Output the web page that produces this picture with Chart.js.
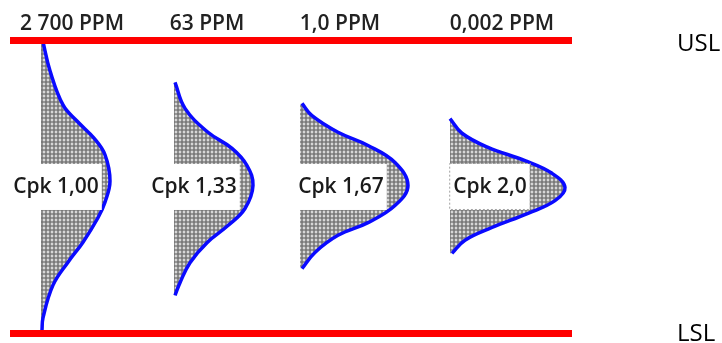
<!DOCTYPE html>
<html>
<head>
<meta charset="utf-8">
<script src="https://cdn.jsdelivr.net/npm/chart.js@4.4.1/dist/chart.umd.min.js"></script>
<style>
  html, body { margin: 0; padding: 0; background: #fff; }
  #wrap { width: 722px; height: 343px; }
</style>
</head>
<body>
<div id="wrap"><canvas id="myChart" width="722" height="343"></canvas></div>
<script>
// values in sigma of the Cpk 1,00 process, so LSL = -3 and USL = +3
var cpkLabels = ["Cpk 1,00", "Cpk 1,33", "Cpk 1,67", "Cpk 2,0"];
var ppmLabels = ["2 700 PPM", "63 PPM", "1,0 PPM", "0,002 PPM"];
var limitLabels = ["USL", "LSL"];
var specLimits = [3, -3];

// half bells: position + how far the curve bulges out
var curve1Pos = [2.97, 2.38, 1.68, 1.35, 1.00, 0.66, 0.12, -0.31, -0.63, -1.13, -1.54, -2.01, -2.68, -2.93];
var curve1Width = [2, 9, 22, 36, 53, 64, 69, 64, 57, 42, 27, 12, 2, 1];
var curve2Pos = [2.14, 1.61, 1.12, 0.79, 0.44, 0.03, -0.44, -0.79, -1.14, -1.55, -1.96, -2.22];
var curve2Width = [1, 11, 34, 58, 73, 79, 71, 54, 33, 16, 6, 1];
var curve3Pos = [1.71, 1.46, 1.12, 0.85, 0.50, 0.03, -0.38, -0.73, -0.99, -1.34, -1.67];
var curve3Width = [2, 12, 38, 68, 95, 108, 95, 68, 38, 15, 2];
var curve4Pos = [1.40, 1.10, 0.81, 0.54, 0.28, -0.01, -0.28, -0.54, -0.83, -1.09, -1.36];
var curve4Width = [0, 12, 38, 75, 102, 115, 105, 78, 42, 15, 2];

// layout (x scale runs 0..722)
var curveBase = [41, 174, 300, 450];
var cpkLabelX = [56, 194, 341, 490];
var ppmLabelX = [72, 207, 340, 502];
var specFrom = 10, specTo = 572;

var curvesPos = [curve1Pos, curve2Pos, curve3Pos, curve4Pos];
var curvesWidth = [curve1Width, curve2Width, curve3Width, curve4Width];

const ctx = document.getElementById('myChart').getContext('2d');

// grey dot screen like the print original
function dotPattern() {
  var c = document.createElement('canvas');
  c.width = 4; c.height = 4;
  var g = c.getContext('2d');
  g.fillStyle = '#ffffff';
  g.fillRect(0, 0, 4, 4);
  g.fillStyle = '#7a7a7a';
  g.beginPath();
  g.arc(2, 2, 1.95, 0, Math.PI * 2);
  g.fill();
  return ctx.createPattern(c, 'repeat');
}
var dots = dotPattern();

var datasets = [];
specLimits.forEach(function(lim) {
  datasets.push({
    data: [{x: specFrom, y: lim}, {x: specTo, y: lim}],
    borderColor: '#ff0000',
    borderWidth: 7,
    pointRadius: 0,
    fill: false,
    order: 0
  });
});
curvesPos.forEach(function(pos, i) {
  datasets.push({
    data: pos.map(function(v, j) { return {x: curveBase[i] + curvesWidth[i][j], y: v}; }),
    borderColor: '#0a0aff',
    borderWidth: 3.5,
    backgroundColor: dots,
    pointRadius: 0,
    tension: 0.4,
    fill: {value: curveBase[i]},
    order: 1
  });
});

// labels: white boxes with Cpk text, PPM on top, USL/LSL on the right
const textPlugin = {
  id: 'texts',
  afterDatasetsDraw(chart) {
    const c = chart.ctx;
    const xs = chart.scales.x, ys = chart.scales.y;
    c.save();
    const midY = ys.getPixelForValue(0);
    c.font = '600 21px "Open Sans"';
    c.textBaseline = 'alphabetic';
    cpkLabels.forEach(function(t, i) {
      const w = c.measureText(t).width;
      const cx = xs.getPixelForValue(cpkLabelX[i]);
      const left = cx - w / 2 - 4, right = cx + w / 2 + 3;
      c.fillStyle = '#ffffff';
      c.fillRect(left, midY - 23, right - left, 46);
      if (i === 3) {
        c.strokeStyle = '#a0a0a0';
        c.lineWidth = 1;
        c.setLineDash([2, 2]);
        c.strokeRect(left + 0.5, midY - 23.5, right - left, 46);
        c.setLineDash([]);
      }
      c.fillStyle = '#1a1a1a';
      c.textAlign = 'center';
      c.fillText(t, cx, midY + 6);
    });
    c.fillStyle = '#222222';
    ppmLabels.forEach(function(t, i) {
      c.textAlign = 'center';
      c.fillText(t, xs.getPixelForValue(ppmLabelX[i]), ys.getPixelForValue(specLimits[0]) - 10);
    });
    c.font = '400 24px "Open Sans"';
    c.fillStyle = '#000000';
    c.textAlign = 'left';
    c.fillText(limitLabels[0], 677, ys.getPixelForValue(specLimits[0]) + 11);
    c.fillText(limitLabels[1], 677, ys.getPixelForValue(specLimits[1]) + 8);
    c.restore();
  }
};

const myChart = new Chart(ctx, {
  type: 'line',
  data: { datasets: datasets },
  options: {
    indexAxis: 'y',
    responsive: false,
    animation: false,
    devicePixelRatio: 1,
    layout: { padding: 0 },
    scales: {
      x: { type: 'linear', min: 0, max: 722, display: false },
      y: { type: 'linear', min: -3.195, max: 3.829, display: false }
    },
    plugins: {
      legend: { display: false },
      tooltip: { enabled: false }
    }
  },
  plugins: [textPlugin]
});
</script>
</body>
</html>
